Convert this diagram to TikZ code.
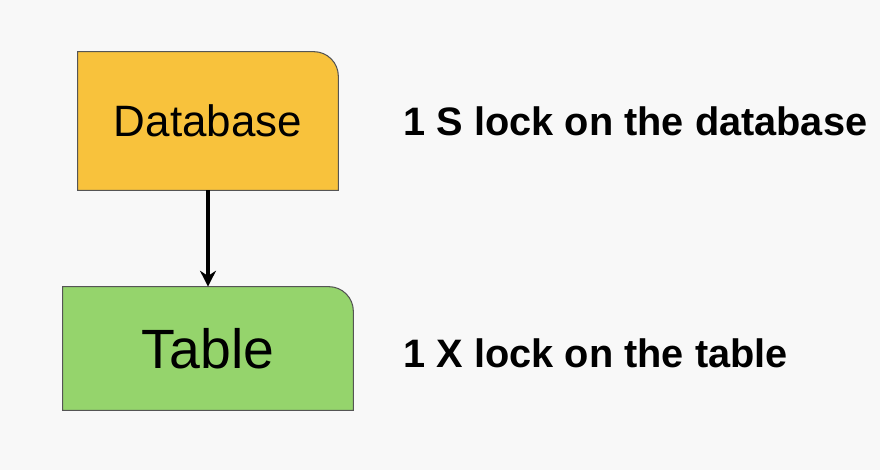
\documentclass[tikz,border=0pt]{standalone}
\usepackage{fontspec}
\setmainfont{Liberation Sans}
\usetikzlibrary{positioning,arrows.meta}
\definecolor{dbyellow}{HTML}{F8C23C}
\definecolor{tblgreen}{HTML}{95D46C}
\definecolor{bggray}{HTML}{F8F8F8}
\definecolor{edgegray}{HTML}{555555}

\begin{document}
\begin{tikzpicture}[
    objbox/.style={rectangle, inner sep=0pt, text centered},
    note/.style={anchor=west, font=\bfseries\fontsize{22.6}{26}\selectfont},
    arrow/.style={-{Stealth[length=9pt, width=9pt]}, line width=2.2pt}
]

% Background
\fill[bggray] (0,0) rectangle (17.6,9.4);
\useasboundingbox (0,0) rectangle (17.6,9.4);

% Boxes (only the top right corner is rounded)
\node[objbox, minimum width=5.2cm, minimum height=2.76cm] (db) at (4.16,6.98) {};
\node[objbox, minimum width=5.8cm, minimum height=2.46cm] (tbl) at (4.16,2.43) {};
\draw[edgegray, fill=dbyellow, line width=0.6pt] (db.south west) -- (db.north west)
    -- ([xshift=-14pt]db.north east) arc[start angle=90, end angle=0, radius=14pt]
    -- (db.south east) -- cycle;
\draw[edgegray, fill=tblgreen, line width=0.6pt] (tbl.south west) -- (tbl.north west)
    -- ([xshift=-14pt]tbl.north east) arc[start angle=90, end angle=0, radius=14pt]
    -- (tbl.south east) -- cycle;
\node[font=\fontsize{25}{30}\selectfont] (dbtext) at (db) {Database};
\node[font=\fontsize{31.5}{36}\selectfont] (tbltext) at (tbl) {Table};

% Lock notes
\node[note] (dblock) at (7.95,6.98) {1 S lock on the database};
\node[note] (tbllock) at (7.95,2.33) {1 X lock on the table};

% Arrow
\draw[arrow] (db.south) -- (tbl.north);

\end{tikzpicture}
\end{document}
